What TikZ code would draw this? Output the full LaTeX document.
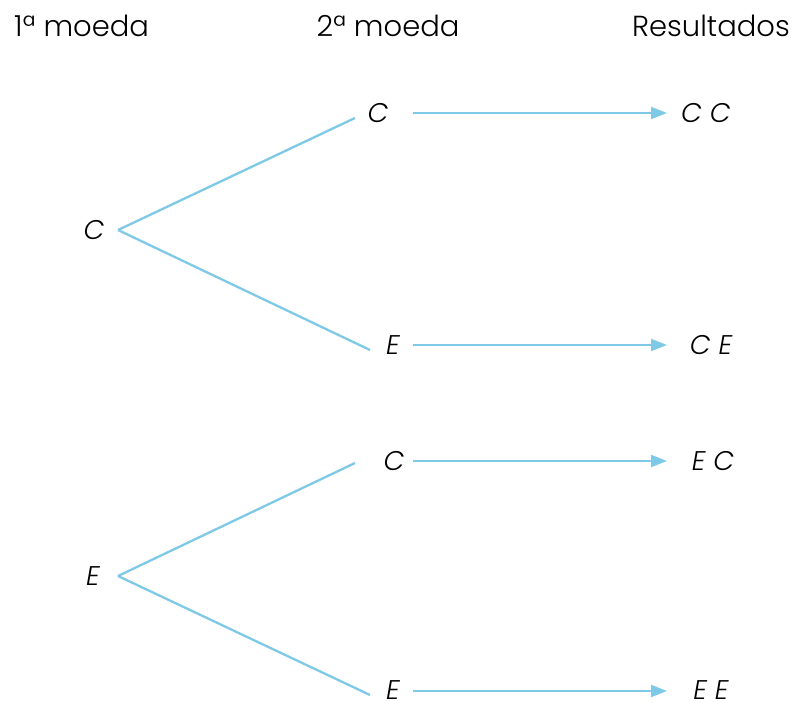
\documentclass[tikz,border=0pt]{standalone}
\usepackage{fontspec}
\IfFontExistsTF{Poppins Light}{\setmainfont{Poppins Light}[ItalicFont=Poppins Light Italic]}{\setmainfont{Poppins}}
\usetikzlibrary{arrows.meta}
\definecolor{branch}{RGB}{126,201,230}
\tikzset{
  hdr/.style={inner sep=0pt, anchor=base, font=\fontsize{29}{33}\selectfont},
  lbl/.style={inner sep=0pt, font=\fontsize{27}{30}\selectfont\itshape},
  branchline/.style={draw=branch, line width=2.3pt},
  resarrow/.style={draw=branch, line width=2.3pt, -{Triangle[length=16pt,width=12pt]}}
}
\begin{document}
\begin{tikzpicture}[x=1pt,y=-1pt]
\useasboundingbox (0,0) rectangle (795,703);
% headers
\node[hdr, anchor=base west] (h1) at (14,37) {1ª moeda};
\node[hdr] (h2) at (388,37) {2ª moeda};
\node[hdr, anchor=base east] (h3) at (790,37) {Resultados};
% first coin
\node[lbl] (c1) at (94,230) {C};
\node[lbl] (e1) at (93,576) {E};
% second coin
\node[lbl] (cc2) at (378,113) {C};
\node[lbl] (ce2) at (393,345) {E};
\node[lbl] (ec2) at (394,461) {C};
\node[lbl] (ee2) at (393,690) {E};
% results
\node[lbl] (rcc) at (706,113) {C C};
\node[lbl] (rce) at (711,345) {C E};
\node[lbl] (rec) at (713,461) {E C};
\node[lbl] (ree) at (711,690) {E E};
% branches
\coordinate (c1o) at (118,230);
\coordinate (e1o) at (118,576);
\draw[branchline] (c1o) -- (355,118);
\draw[branchline] (c1o) -- (370,350);
\draw[branchline] (e1o) -- (355,463);
\draw[branchline] (e1o) -- (370,695);
% arrows
\draw[resarrow] (413,113) -- (667,113);
\draw[resarrow] (413,345) -- (667,345);
\draw[resarrow] (413,461) -- (667,461);
\draw[resarrow] (413,691) -- (667,691);
\end{tikzpicture}
\end{document}
